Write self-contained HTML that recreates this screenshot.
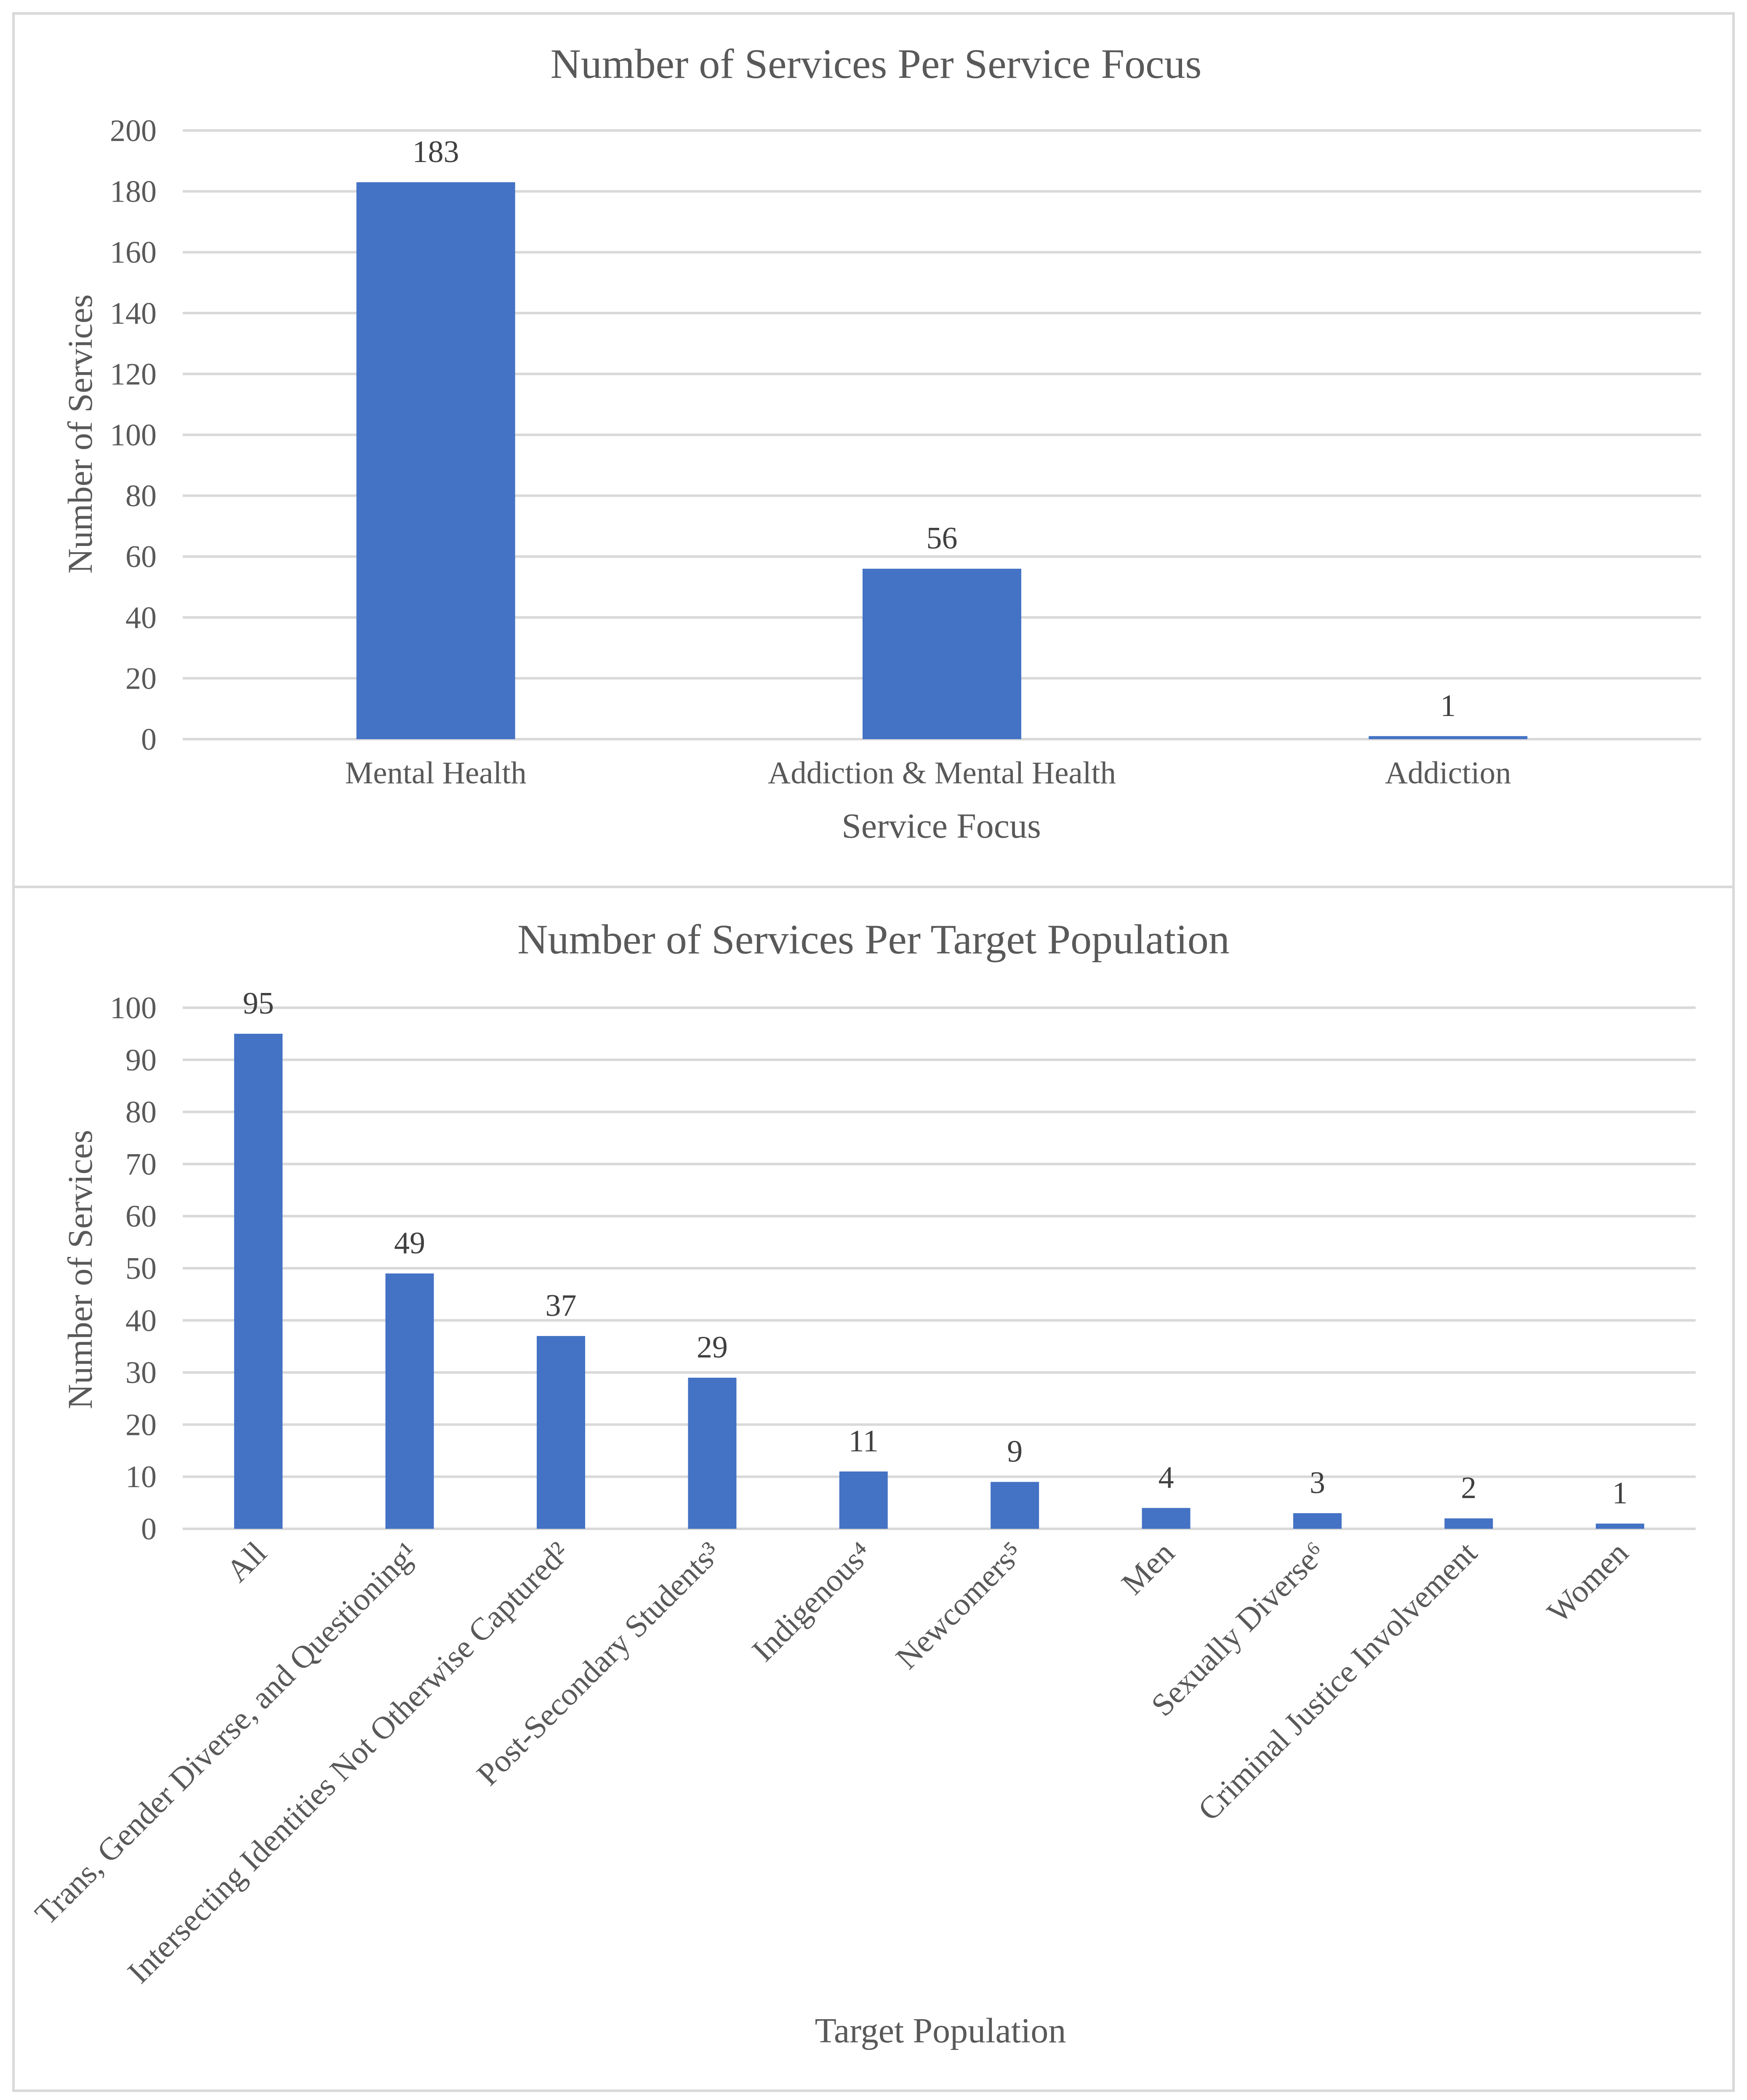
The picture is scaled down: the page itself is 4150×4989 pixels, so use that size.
<!DOCTYPE html>
<html><head><meta charset="utf-8"><style>
html,body{margin:0;padding:0;background:#fff;}
svg{display:block;font-family:"Liberation Serif",serif;}
</style></head><body>
<svg id="chart" width="4150" height="4989" viewBox="0 0 4150 4989" xmlns="http://www.w3.org/2000/svg">
<rect x="32" y="32" width="4086" height="2075" fill="#fff" stroke="#d9d9d9" stroke-width="6"/>
<rect x="32" y="2107" width="4086" height="2860" fill="#fff" stroke="#d9d9d9" stroke-width="6"/>
<g id="top"></g>
<g id="bottom"></g>
</svg>
<script>
const focusCategories = ["Mental Health", "Addiction & Mental Health", "Addiction"];
const focusValues = [183, 56, 1];
const focusTicks = [0, 20, 40, 60, 80, 100, 120, 140, 160, 180, 200];

const popCategories = ["All", "Trans, Gender Diverse, and Questioning¹", "Intersecting Identities Not Otherwise Captured²", "Post-Secondary Students³", "Indigenous⁴", "Newcomers⁵", "Men", "Sexually Diverse⁶", "Criminal Justice Involvement", "Women"];
const popValues = [95, 49, 37, 29, 11, 9, 4, 3, 2, 1];
const popTicks = [0, 10, 20, 30, 40, 50, 60, 70, 80, 90, 100];

const NS = "http://www.w3.org/2000/svg";
function mk(parent, tag, attrs, text) {
  const e = document.createElementNS(NS, tag);
  for (const k in attrs) e.setAttribute(k, attrs[k]);
  if (text !== undefined) e.textContent = text;
  parent.appendChild(e);
  return e;
}

function drawChart(g, cfg, cats, vals, ticks) {
  const maxV = ticks[ticks.length - 1];
  const y = v => cfg.y0 - (v / maxV) * (cfg.y0 - cfg.y1);
  const band = (cfg.x1 - cfg.x0) / cats.length;
  const xc = i => cfg.x0 + band * (i + 0.5);

  const t = mk(g, "text", {x: cfg.titleX, y: cfg.titleY, "font-size": 100, fill: "#595959", "text-anchor": "middle"}, cfg.title);
  
  

  ticks.forEach(v => {
    const l = mk(g, "line", {x1: cfg.x0, x2: cfg.x1, y1: y(v), y2: y(v), stroke: "#d9d9d9", "stroke-width": 6});
    
    
    const tl = mk(g, "text", {x: 372, y: y(v) + 25, "font-size": 74, fill: "#595959", "text-anchor": "end"}, String(v));
    
    
  });

  cats.forEach((c, i) => {
    const v = vals[i];
    const r = mk(g, "rect", {x: xc(i) - cfg.barW / 2, y: y(v), width: cfg.barW, height: cfg.y0 - y(v), fill: "#4472c4"});
    
    
    const lab = mk(g, "text", {x: xc(i), y: y(v) - 48, "font-size": 74, fill: "#404040", "text-anchor": "middle"}, String(v));
    
    
    let cl;
    if (cfg.rotate) {
      const ax = xc(i) + 24, ay = cfg.y0 + 62;
      cl = mk(g, "text", {x: ax, y: ay, "font-size": 76, fill: "#595959", "text-anchor": "end", transform: `rotate(-45 ${ax} ${ay})`}, c);
    } else {
      cl = mk(g, "text", {x: xc(i), y: cfg.y0 + 105, "font-size": 75, fill: "#595959", "text-anchor": "middle"}, c);
    }
    
    
  });

  const ya = mk(g, "text", {x: 0, y: 0, "font-size": 83, fill: "#595959", "text-anchor": "middle", transform: `translate(${cfg.yTitleX} ${cfg.yTitleY}) rotate(-90)`}, "Number of Services");
  
  
  const xa = mk(g, "text", {x: cfg.xTitleX, y: cfg.xTitleY, "font-size": 84, fill: "#595959", "text-anchor": "middle"}, cfg.xTitle);
  
  
}

drawChart(document.getElementById("top"),
  {prefix: "focus", title: "Number of Services Per Service Focus", titleX: 2081, titleY: 185,
   x0: 434, x1: 4041, y0: 1756, y1: 310, barW: 377, rotate: false,
   yTitleX: 218, yTitleY: 1031, xTitle: "Service Focus", xTitleX: 2236, xTitleY: 1990},
  focusCategories, focusValues, focusTicks);

drawChart(document.getElementById("bottom"),
  {prefix: "population", title: "Number of Services Per Target Population", titleX: 2075, titleY: 2265,
   x0: 434, x1: 4028, y0: 3632, y1: 2394, barW: 115, rotate: true,
   yTitleX: 218, yTitleY: 3016, xTitle: "Target Population", xTitleX: 2234, xTitleY: 4852},
  popCategories, popValues, popTicks);
</script>
</body></html>
